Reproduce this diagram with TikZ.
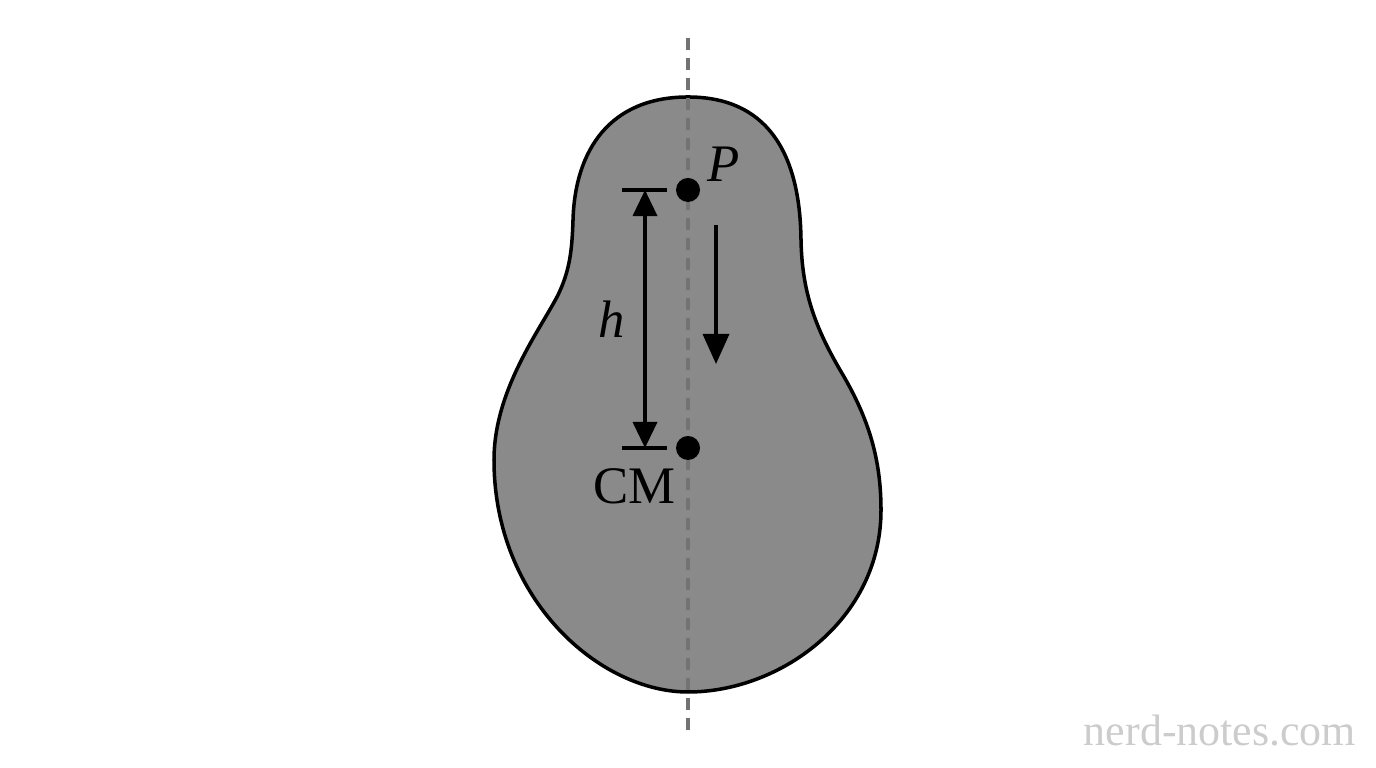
\documentclass[tikz,border=0pt]{standalone}
\usepackage{fontspec}
\setmainfont{Liberation Serif}
\usepackage{tikz}
\usetikzlibrary{arrows.meta}

\begin{document}
\begin{tikzpicture}[x=0.01cm, y=-0.01cm, every node/.style={font=\fontsize{15}{18}\selectfont},
    dot/.style={circle, fill=black, inner sep=0pt, minimum size=0.24cm},
    tip/.style={-{Triangle[length=0.3cm, width=0.26cm]}}]
    % Page frame
    \useasboundingbox (0,0) rectangle (1376,768);

    % Body
    \filldraw[fill=black!46, line width=1pt] (688,97)
        .. controls (765,97) and (800,150) .. (801,240)
        .. controls (802,292) and (815,328) .. (843,375)
        .. controls (868,418) and (881,458) .. (881,510)
        .. controls (881,620) and (780,692) .. (688,692)
        .. controls (600,692) and (494,600) .. (494,460)
        .. controls (494,390) and (540,330) .. (558,295)
        .. controls (570,270) and (572,250) .. (573,220)
        .. controls (575,150) and (610,97) .. (688,97) -- cycle;

    % Vertical axis through P and CM
    \coordinate (axtop) at (688,38);
    \coordinate (axbot) at (688,730);
    \draw[black!55, line width=1pt, dash pattern=on 0.12cm off 0.08cm] (axtop) -- (axbot);

    % Pivot and centre of mass
    \node[dot] (P) at (688,190) {};
    \node[dot] (CM) at (688,448) {};
    \node[anchor=south west, inner sep=0pt] (Plbl) at (707,182) {\textit{P}};
    \node[anchor=north east, inner sep=0pt] (CMlbl) at (676,468) {CM};

    % Distance h
    \coordinate (tickP) at (622,190);
    \coordinate (tickCM) at (622,448);
    \draw[line width=0.9pt] (tickP) -- +(45,0);
    \draw[line width=0.9pt] (tickCM) -- +(45,0);
    \draw[{Triangle[length=0.26cm, width=0.24cm]}-{Triangle[length=0.26cm, width=0.24cm]}, line width=1pt]
        (645,190) -- (645,448) node[midway, left=0.18cm, inner sep=0pt] (h) {\textit{h}};

    % Motion of P
    \coordinate (mvtop) at (716,225);
    \coordinate (mvbot) at (716,364);
    \draw[tip, line width=1pt] (mvtop) -- (mvbot);

    % Watermark
    \node[font=\fontsize{12.5}{15}\selectfont, text=black!20] (wm) at (1220,731) {nerd-notes.com};
\end{tikzpicture}
\end{document}
